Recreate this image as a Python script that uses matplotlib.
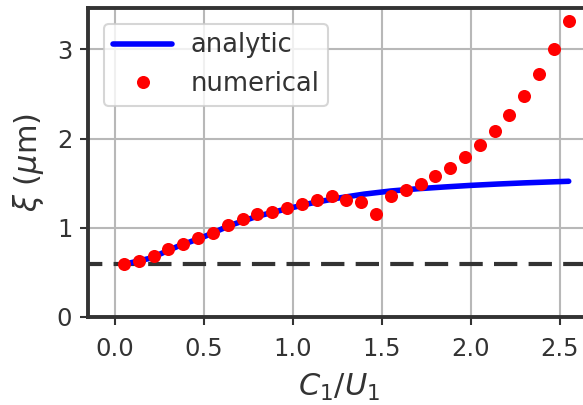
import matplotlib
matplotlib.use("Agg")
import matplotlib.pyplot as plt

# numerical points
x_num = [0.05, 0.133, 0.217, 0.3, 0.383, 0.467, 0.55, 0.633, 0.717, 0.8,
         0.883, 0.967, 1.05, 1.133, 1.217, 1.3, 1.383, 1.467, 1.55, 1.633,
         1.717, 1.8, 1.883, 1.967, 2.05, 2.133, 2.217, 2.3, 2.383, 2.467, 2.55]
y_num = [0.59, 0.627, 0.68, 0.758, 0.822, 0.881, 0.945, 1.03, 1.097, 1.15,
         1.176, 1.221, 1.262, 1.307, 1.352, 1.31, 1.288, 1.158, 1.359, 1.419,
         1.486, 1.576, 1.673, 1.796, 1.93, 2.087, 2.27, 2.483, 2.729, 3.005, 3.32]

# analytic curve
x_ana = [0.05, 0.2, 0.35, 0.5, 0.65, 0.8, 0.95, 1.1, 1.25, 1.4, 1.55, 1.7,
         1.85, 2.0, 2.15, 2.3, 2.45, 2.55]
y_ana = [0.59, 0.66, 0.79, 0.90, 1.03, 1.13, 1.205, 1.275, 1.332, 1.378,
         1.413, 1.438, 1.458, 1.476, 1.491, 1.504, 1.515, 1.522]

xi_0 = 0.59
x_ticks = [0.0, 0.5, 1.0, 1.5, 2.0, 2.5]
y_ticks = [0, 1, 2, 3]

dark = "#333333"

fig = plt.figure(figsize=(5.83, 4.05), dpi=100)
ax = fig.add_axes([0.1515, 0.2173, 0.86, 0.764])

ax.plot([-0.2, 2.8], [xi_0, xi_0], color=dark, lw=3, dashes=(5.6, 2.7), zorder=2)
ax.plot(x_ana, y_ana, color="blue", lw=4, solid_capstyle="round",
        label="analytic", zorder=3)
ax.plot(x_num, y_num, "o", color="red", ms=9.4, mec="none",
        label="numerical", zorder=4)

ax.set_xlim(-0.15, 2.668)
ax.set_ylim(0, 3.47)
ax.set_xticks(x_ticks)
ax.set_yticks(y_ticks)
ax.set_xticklabels(["0.0", "0.5", "1.0", "1.5", "2.0", "2.5"])

ax.grid(True, color="#b8b8b8", lw=1.5)
ax.set_axisbelow(True)

for side in ["left", "bottom", "top"]:
    ax.spines[side].set_color(dark)
    ax.spines[side].set_linewidth(2.8)
ax.spines["right"].set_visible(False)

ax.tick_params(axis="both", colors=dark, labelsize=17.5, length=5.5, width=1.5)
ax.tick_params(axis="y", pad=6)
ax.tick_params(axis="x", pad=9)

ax.set_xlabel(r"$C_1/U_1$", fontsize=22, color=dark, labelpad=8)
ax.set_ylabel(r"$\xi$ ($\mu$m)", fontsize=22, color=dark, labelpad=8)

leg = ax.legend(loc="upper left", fontsize=18.5, borderaxespad=0.62,
                borderpad=0.35, handlelength=2.3, handletextpad=0.7,
                labelcolor=dark, framealpha=0.8)
leg.get_frame().set_edgecolor("#cccccc")
leg.get_frame().set_linewidth(1.5)

fig.savefig("out.png", dpi=100)
